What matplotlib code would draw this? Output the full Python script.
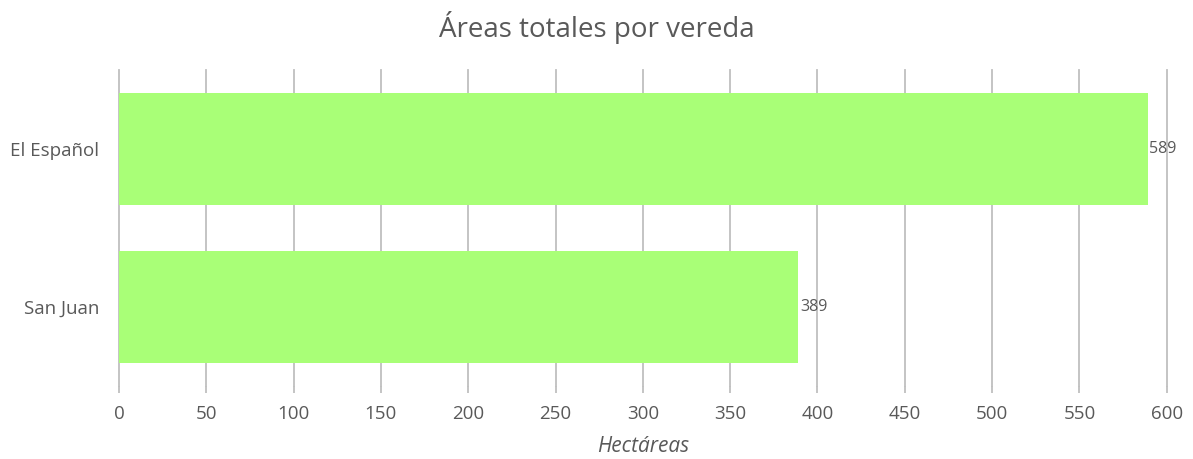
import matplotlib
matplotlib.use("Agg")
import matplotlib.pyplot as plt
from matplotlib.transforms import blended_transform_factory

######################## Datos ########################
veredas = ["San Juan", "El Español"]
hectareas = [389, 589]
ticks_x = [0, 50, 100, 150, 200, 250, 300, 350, 400, 450, 500, 550, 600]

plt.rcParams['font.family'] = ['Open Sans', 'DejaVu Sans']

fig = plt.figure(figsize=(11.93, 4.59), dpi=100)
ax = fig.add_axes([0.0997, 0.159, 0.8783, 0.6885])

gris = "#595959"
barras = ax.barh(veredas, hectareas, height=0.71, color="#A9FF77", zorder=3)

for b, v in zip(barras, hectareas):
    ax.text(b.get_width() + 1, b.get_y() + b.get_height() / 2, str(v),
            va="center", ha="left", fontsize=11.5, color=gris, zorder=4)

ax.set_xlim(0, 600)
ax.set_ylim(-0.5, 1.5)
ax.set_xticks(ticks_x)
ax.grid(axis="x", color="#BFBFBF", linewidth=1.3, zorder=0)
for g in ax.get_xgridlines():
    g.set_clip_on(False)
for s in ax.spines.values():
    s.set_visible(False)
ax.tick_params(axis="x", length=5, color="#BFBFBF", width=1.3, labelsize=13.5,
               labelcolor=gris, pad=9)
ax.tick_params(axis="y", length=0, labelsize=13.5, labelcolor=gris, pad=14)

# etiqueta del eje x centrada sobre el eje
trans = blended_transform_factory(ax.transAxes, fig.transFigure)
ax.text(0.5, 1 - 447 / 459, "Hectáreas", transform=trans,
        ha="center", va="center", style="italic", fontsize=15, color=gris)
fig.text(0.5, 1 - 27 / 459, "Áreas totales por vereda", ha="center", va="center",
         fontsize=20, color=gris)

fig.savefig("out.png", dpi=100)
